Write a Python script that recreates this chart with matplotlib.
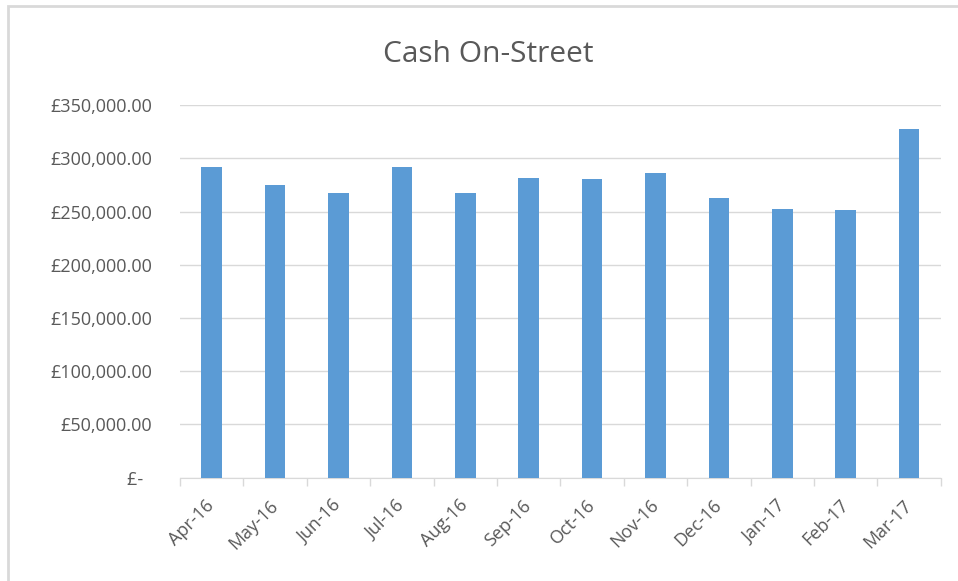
import matplotlib.pyplot as plt
from matplotlib.patches import Rectangle
from matplotlib.ticker import FuncFormatter, MultipleLocator
import numpy as np

months = ["Apr-16", "May-16", "Jun-16", "Jul-16", "Aug-16", "Sep-16",
          "Oct-16", "Nov-16", "Dec-16", "Jan-17", "Feb-17", "Mar-17"]
cash = [291700, 274800, 267300, 291700, 267300, 282000,
        280500, 286700, 262600, 252800, 251600, 327400]

plt.rcParams["font.family"] = ["Open Sans", "DejaVu Sans"]
grey = "#595959"
light = "#d9d9d9"

fig = plt.figure(figsize=(9.58, 5.81), dpi=100)
ax = fig.add_axes([0.1879, 0.1778, 0.982 - 0.1879, 0.8188 - 0.1778])

# chart border (right and bottom edges fall outside the picture)
fig.patches.append(Rectangle((8 / 958, -0.1), 2, 0.1 + 1 - 6 / 581, transform=fig.transFigure,
                             fill=False, edgecolor=light, linewidth=2))

x = np.arange(len(months))
ax.bar(x, cash, width=0.325, color="#5b9bd5", zorder=3)

ax.set_xlim(-0.5, len(months) - 0.5)
ax.set_ylim(0, 350000)
ax.yaxis.set_major_locator(MultipleLocator(50000))


def money(v, pos):
    if v == 0:
        return "£-  "
    return "£{:,.2f}".format(v)


ax.yaxis.set_major_formatter(FuncFormatter(money))
ax.grid(axis="y", color=light, linewidth=1, zorder=0)
ax.tick_params(axis="y", length=0, pad=20, labelsize=13, labelcolor=grey)

ax.set_xticks(x)
ax.set_xticklabels(months, rotation=45, ha="right", va="center", rotation_mode="anchor")
ax.set_xticks(np.arange(-0.5, len(months)), minor=True)
ax.tick_params(axis="x", which="major", length=0, pad=18, labelsize=13, labelcolor=grey)
ax.tick_params(axis="x", which="minor", length=6, color=light, width=1)

for s in ["top", "right", "left"]:
    ax.spines[s].set_visible(False)
ax.spines["bottom"].set_color(light)

fig.text(0.5094, 1 - 61.7 / 581, "Cash On-Street", ha="center", va="baseline",
         fontsize=21.5, color=grey)

fig.savefig("out.png", dpi=100)
